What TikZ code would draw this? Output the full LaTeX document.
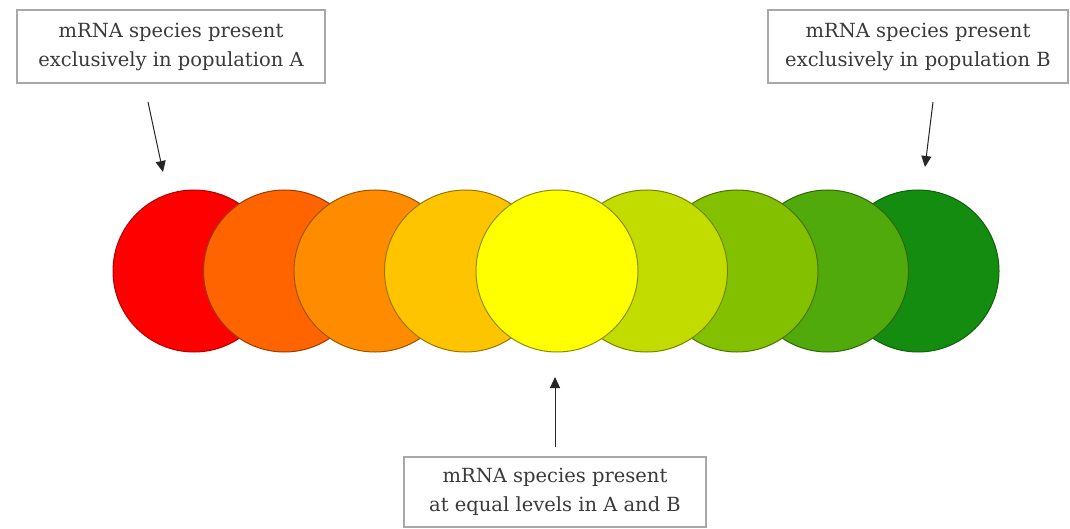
\documentclass[tikz,border=0pt]{standalone}
\usepackage{fontspec}
\setmainfont{DejaVu Serif}
\usetikzlibrary{arrows.meta}
\definecolor{c1}{HTML}{FF0000}
\definecolor{c2}{HTML}{FF6400}
\definecolor{c3}{HTML}{FF8C00}
\definecolor{c4}{HTML}{FFC400}
\definecolor{c5}{HTML}{FFFF00}
\definecolor{c6}{HTML}{C2DC00}
\definecolor{c7}{HTML}{82C000}
\definecolor{c8}{HTML}{50AA0C}
\definecolor{c9}{HTML}{148C10}
\definecolor{txt}{HTML}{3A3A3A}
\definecolor{boxline}{HTML}{A8A8A8}
\tikzset{
  lbl/.style={draw=boxline, line width=1.2pt, fill=white, text=txt, align=center,
    font=\fontsize{19.5}{29}\selectfont, inner sep=0pt},
  blob/.style={circle, minimum size=162pt, inner sep=0pt, line width=1pt},
  pointer/.style={draw=black!85, line width=1pt, -{Triangle[length=11pt,width=10pt]}}
}
\begin{document}
\begin{tikzpicture}[x=1pt,y=-1pt]
\useasboundingbox (0,0) rectangle (1070,529);
\fill[white] (0,0) rectangle (1070,529);
% circles, outer ones first, yellow on top
\node[blob, fill=c1, draw=c1!70!black] (k1) at (194,271) {};
\node[blob, fill=c9, draw=c9!70!black] (k9) at (918,271) {};
\node[blob, fill=c2, draw=c2!60!black] (k2) at (284.5,271) {};
\node[blob, fill=c8, draw=c8!60!black] (k8) at (827.5,271) {};
\node[blob, fill=c3, draw=c3!60!black] (k3) at (375,271) {};
\node[blob, fill=c7, draw=c7!60!black] (k7) at (737,271) {};
\node[blob, fill=c4, draw=c4!60!black] (k4) at (465.5,271) {};
\node[blob, fill=c6, draw=c6!60!black] (k6) at (646.5,271) {};
\node[blob, fill=c5, draw=c5!55!black] (k5) at (557,271) {};
% labels
\node[lbl, minimum width=308pt, minimum height=73pt] (la) at (171,46.5)
  {mRNA species present\\exclusively in population A};
\node[lbl, minimum width=300pt, minimum height=73pt] (lb) at (918,46.5)
  {mRNA species present\\exclusively in population B};
\node[lbl, minimum width=302pt, minimum height=70pt] (lc) at (555,492)
  {mRNA species present\\at equal levels in A and B};
% arrows
\coordinate (sa) at (148,102);
\coordinate (ta) at (163,172);
\coordinate (sb) at (933,102);
\coordinate (tb) at (925,167);
\coordinate (sc) at (555,447);
\coordinate (tc) at (555,377);
\draw[pointer] (sa) -- (ta);
\draw[pointer] (sb) -- (tb);
\draw[pointer] (sc) -- (tc);
\end{tikzpicture}
\end{document}
